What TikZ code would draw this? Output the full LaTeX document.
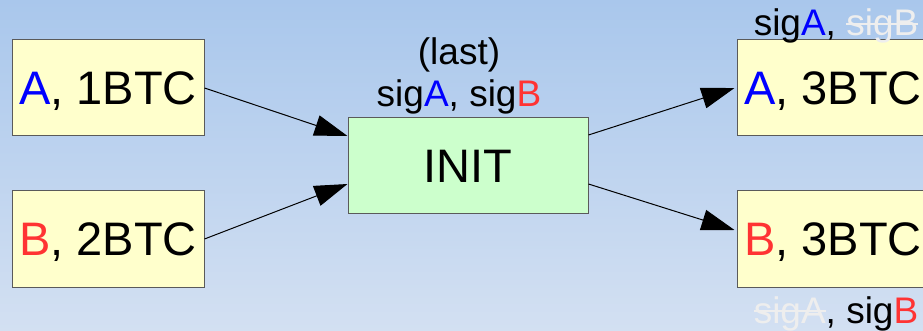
\documentclass[tikz,border=0pt]{standalone}
\usepackage{fontspec}
\setmainfont{Liberation Sans}
\usetikzlibrary{arrows.meta}

\definecolor{bgtop}{HTML}{A9C7EC}
\definecolor{bgbottom}{HTML}{D3E0F2}
\definecolor{coinfill}{HTML}{FFFFCC}
\definecolor{txfill}{HTML}{CCFFCC}
\definecolor{boxline}{HTML}{5A5A5A}
\definecolor{keyA}{HTML}{0000FF}
\definecolor{keyB}{HTML}{FF3333}
\definecolor{gone}{HTML}{EEEEEE}

% a signature that is no longer needed: pale and struck through
\newlength{\droplen}
\newcommand{\dropsig}[1]{\settowidth{\droplen}{#1}%
  \textcolor{gone}{\rlap{#1}\rule[0.55ex]{\droplen}{2pt}}}
\newcommand{\KA}{\textcolor{keyA}{A}}
\newcommand{\KB}{\textcolor{keyB}{B}}

\tikzset{
  boxtext/.style={font=\fontsize{47}{56}\selectfont, text height=33.6pt, text depth=0pt, inner sep=0pt},
  coin/.style={boxtext, draw=boxline, line width=1pt, fill=coinfill,
               minimum width=192pt, minimum height=96pt},
  tx/.style={boxtext, draw=boxline, line width=1pt, fill=txfill,
             minimum width=240pt, minimum height=95pt},
  siglabel/.style={font=\fontsize{37}{44}\selectfont, anchor=base, inner sep=0pt},
  flow/.style={line width=1pt, -{Triangle[length=33pt, width=21pt]}}
}

\begin{document}
\begin{tikzpicture}[x=1pt, y=-1pt]
  \useasboundingbox (0,0) rectangle (923,331);
  \clip (0,0) rectangle (923,331);
  \shade[top color=bgtop, bottom color=bgbottom] (0,0) rectangle (923,331);

  % inputs
  \node[coin] (a1) at (108,88)  {\KA, 1BTC};
  \node[coin] (b2) at (108,239) {\KB, 2BTC};

  % funding transaction
  \node[tx] (init) at (468,165.5) {INIT};
  \node[siglabel] (last) at (459,65)  {(last)};
  \node[siglabel] (sigs) at (459,107) {sig\KA, sig\KB};

  % outputs
  \node[coin] (a3) at (833,88)  {\KA, 3BTC};
  \node[coin] (b3) at (833,239) {\KB, 3BTC};
  \node[siglabel] (sigtop) at (836,36)  {sig\KA, \dropsig{sigB}};
  \node[siglabel] (sigbot) at (836,323) {\dropsig{sigA}, sig\KB};

  % connectors
  \draw[flow] (a1.east) -- ([yshift=29.5pt]init.west);
  \draw[flow] (b2.east) -- ([yshift=-18.5pt]init.west);
  \draw[flow] ([yshift=30.5pt]init.east) -- ([xshift=-2pt]a3.west);
  \draw[flow] ([yshift=-18.5pt]init.east) -- ([xshift=-2pt,yshift=9pt]b3.west);
\end{tikzpicture}
\end{document}
